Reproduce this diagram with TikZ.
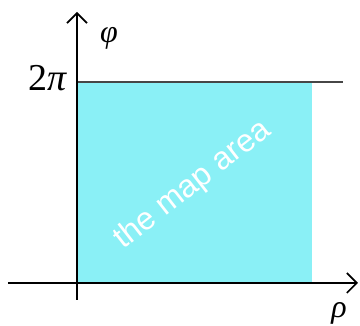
\documentclass[tikz,border=0pt]{standalone}
\usepackage{fontspec}
\newfontfamily\arialfont{Liberation Sans}
\newfontfamily\timesfont{Liberation Serif}
\usetikzlibrary{arrows.meta,positioning}
\definecolor{mapcyan}{RGB}{138,240,246}
\definecolor{edge}{RGB}{70,70,70}
\tikzset{
  axis/.style={line width=1.6pt,-{Straight Barb[length=3.5mm,width=7mm,line width=1.6pt]}},
  lbl/.style={inner sep=0pt,font=\timesfont\fontsize{32}{36}\selectfont},
  maptext/.style={text=white,inner sep=0pt,font=\arialfont\fontsize{32}{36}\selectfont,rotate=38},
}
\begin{document}
\begin{tikzpicture}[x=1pt,y=1pt]
  \useasboundingbox (0,0) rectangle (360,326);
  % the map area
  \fill[mapcyan] (78,43) rectangle (312,244);
  \coordinate (tl) at (77,244);
  \coordinate (tr) at (343,244);
  \draw[edge,line width=1.3pt] (tl) -- (tr);
  % axes
  \coordinate (xs) at (8,43);
  \coordinate (xe) at (358,43);
  \coordinate (ys) at (77,26);
  \coordinate (ye) at (77,314);
  \draw[axis] (xs) -- (xe);
  \draw[axis] (ys) -- (ye);
  \node[lbl] (phi) at (109,288) {\itshape φ};
  \node[lbl,anchor=east,font=\timesfont\fontsize{38}{42}\selectfont] (twopi) at (68,248) {2\textit{π}};
  \node[lbl] (rho) at (339,13) {\itshape ρ};
  \node[maptext] (area) at (193,141) {the map area};
\end{tikzpicture}
\end{document}
